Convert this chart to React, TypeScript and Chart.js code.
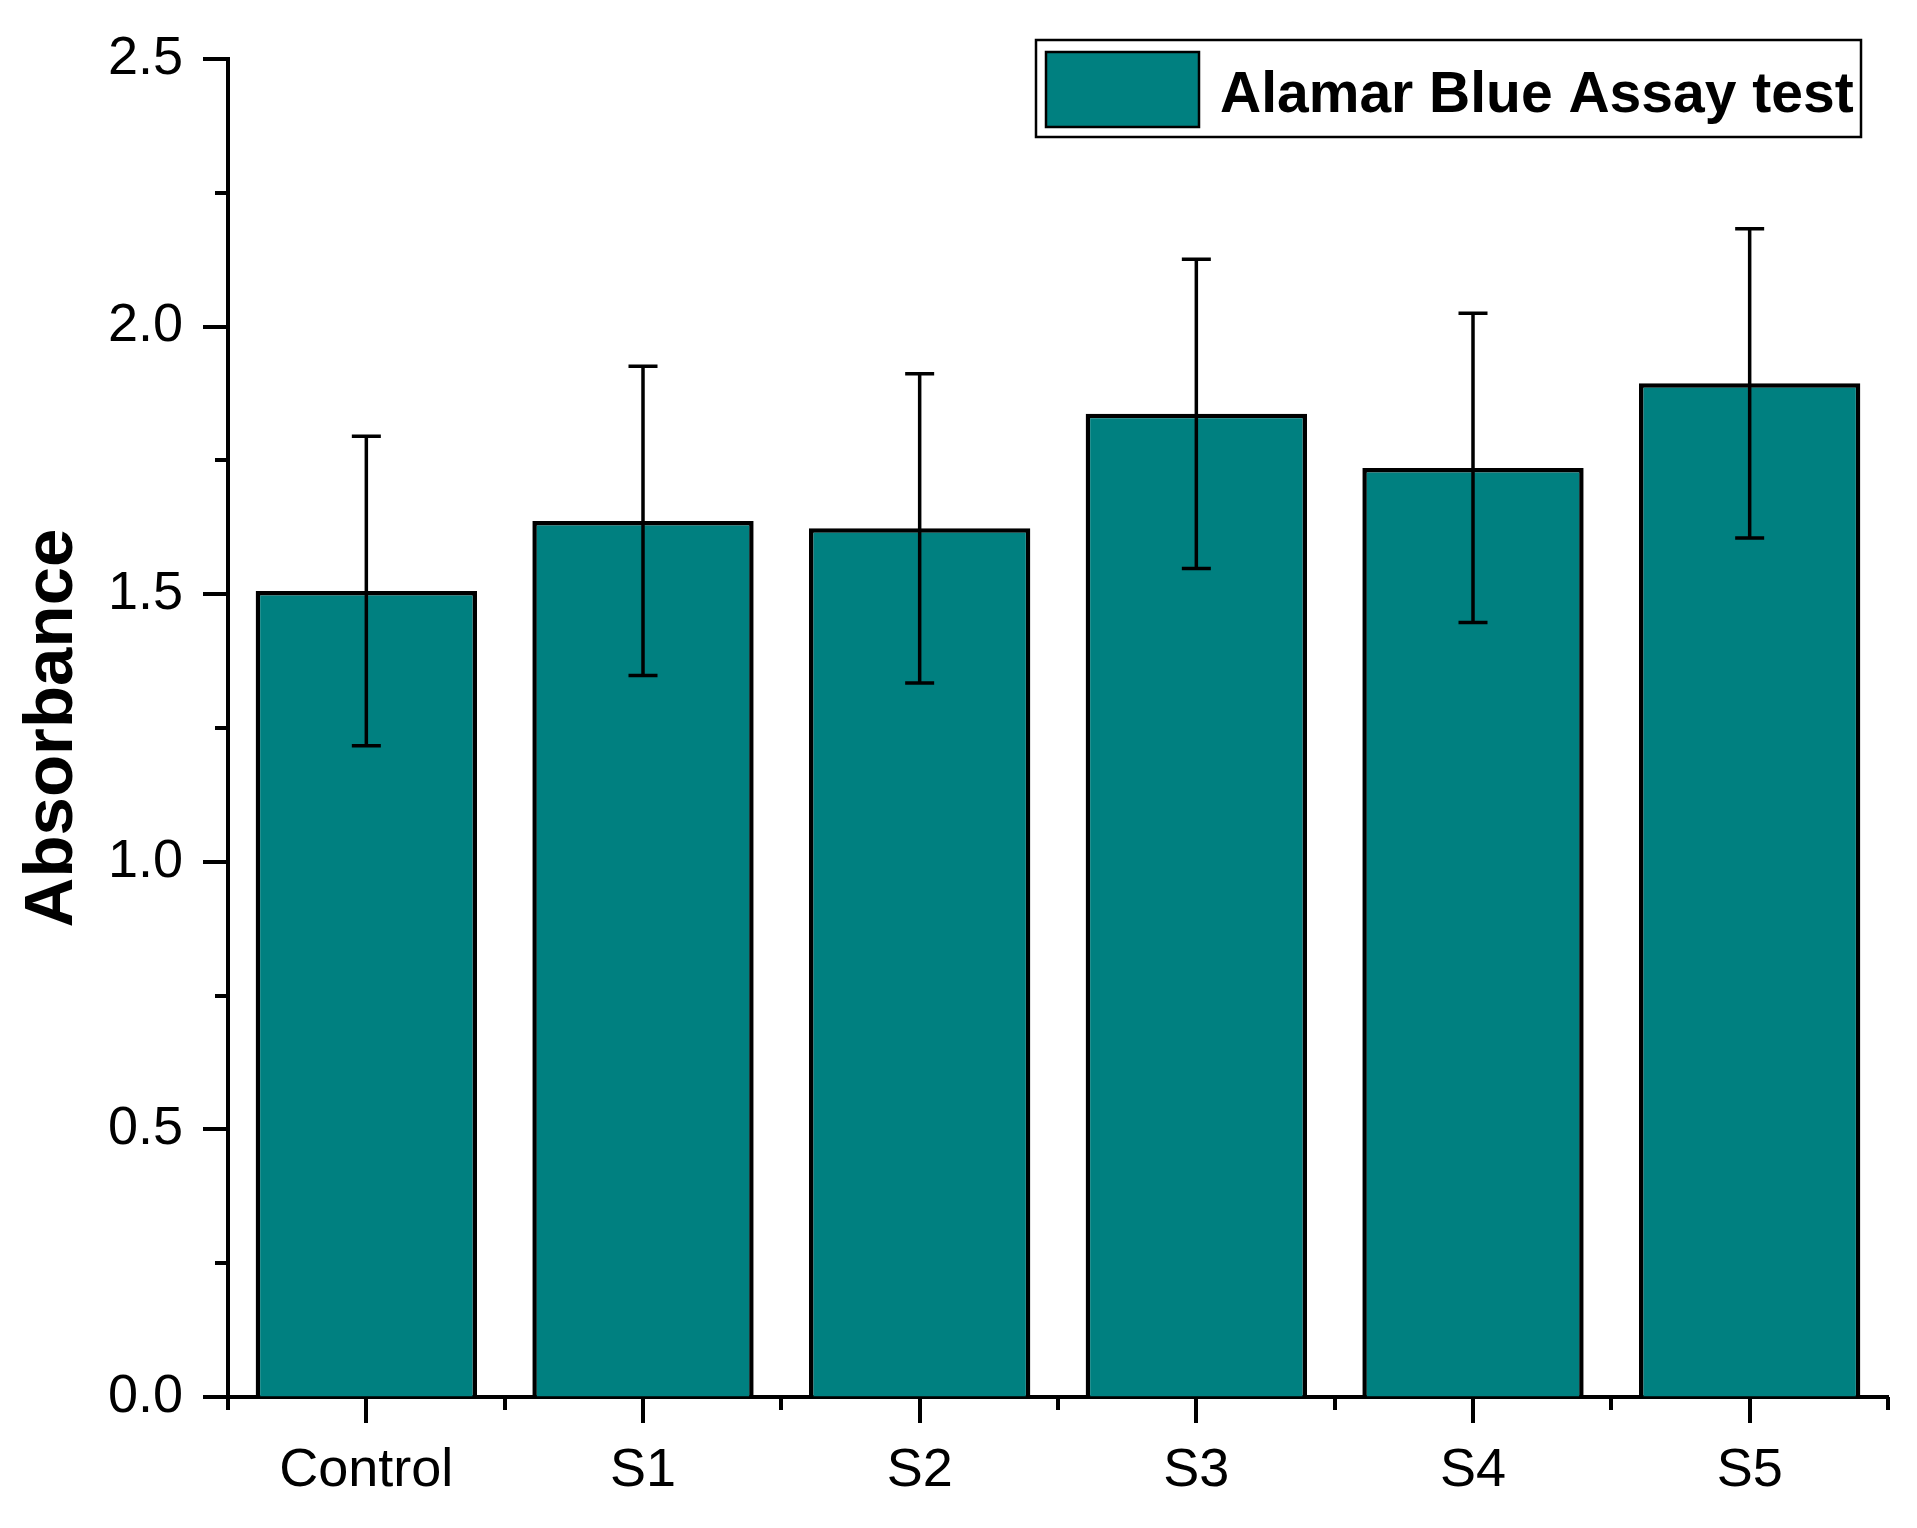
import React, { useEffect, useRef } from 'react';
import { Chart, registerables } from 'chart.js';

Chart.register(...registerables);

// ---- data ----
const categories = ['Control', 'S1', 'S2', 'S3', 'S4', 'S5'];
const absorbance = [1.506, 1.637, 1.623, 1.837, 1.736, 1.894];
const errors = [0.289, 0.289, 0.289, 0.289, 0.289, 0.289];
const yMin = 0;
const yMax = 2.5;
const yMajorStep = 0.5;
const yMinorStep = 0.25;
const seriesLabel = 'Alamar Blue Assay test';
const yTitle = 'Absorbance';

const FONT = '"Liberation Sans", Arial, Helvetica, sans-serif';
const BAR_COLOR = '#008080';

const errorBarPlugin = {
  id: 'errorBars',
  afterDatasetsDraw(chart: any) {
    const ctx = chart.ctx;
    const meta = chart.getDatasetMeta(0);
    const ys = chart.scales.y;
    const vals = chart.data.datasets[0].data as number[];
    ctx.save();
    ctx.strokeStyle = '#000';
    ctx.lineWidth = 3.5;
    ctx.lineCap = 'butt';
    meta.data.forEach((el: any, i: number) => {
      const v = vals[i];
      const e = errors[i];
      const cx = el.x;
      const yTop = ys.getPixelForValue(v + e);
      const yBot = ys.getPixelForValue(v - e);
      const half = 14.5;
      ctx.beginPath();
      ctx.moveTo(cx, yTop);
      ctx.lineTo(cx, yBot);
      ctx.moveTo(cx - half, yTop);
      ctx.lineTo(cx + half, yTop);
      ctx.moveTo(cx - half, yBot);
      ctx.lineTo(cx + half, yBot);
      ctx.stroke();
    });
    ctx.restore();
  },
};

const tickPlugin = {
  id: 'customTicks',
  afterDraw(chart: any) {
    const ctx = chart.ctx;
    const xs = chart.scales.x;
    const ys = chart.scales.y;
    const area = chart.chartArea;
    ctx.save();
    ctx.strokeStyle = '#000';
    ctx.lineWidth = 4;
    ctx.lineCap = 'butt';
    // y ticks (major + minor), pointing outward
    const nMinor = Math.round((yMax - yMin) / yMinorStep);
    for (let k = 0; k <= nMinor; k++) {
      const v = yMin + k * yMinorStep;
      const isMajor = Math.abs(v / yMajorStep - Math.round(v / yMajorStep)) < 1e-6;
      const len = isMajor ? 25 : 13;
      const py = Math.round(ys.getPixelForValue(v));
      ctx.beginPath();
      ctx.moveTo(area.left - len, py);
      ctx.lineTo(area.left, py);
      ctx.stroke();
    }
    // x ticks: boundaries (short) and centres (long)
    const n = categories.length;
    for (let i = 0; i <= n; i++) {
      let px;
      if (i === 0) px = area.left;
      else if (i === n) px = area.right;
      else px = xs.getPixelForValue(i - 0.5);
      px = Math.round(px);
      ctx.beginPath();
      ctx.moveTo(px, area.bottom);
      ctx.lineTo(px, area.bottom + 13);
      ctx.stroke();
    }
    for (let i = 0; i < n; i++) {
      const px = Math.round(xs.getPixelForValue(i));
      ctx.beginPath();
      ctx.moveTo(px, area.bottom);
      ctx.lineTo(px, area.bottom + 26);
      ctx.stroke();
    }
    ctx.restore();
  },
};

const legendPlugin = {
  id: 'boxLegend',
  afterDraw(chart: any) {
    const ctx = chart.ctx;
    const ds = chart.data.datasets[0];
    ctx.save();
    // frame
    ctx.fillStyle = '#fff';
    ctx.fillRect(1036, 40, 825, 97);
    ctx.strokeStyle = '#000';
    ctx.lineWidth = 2.5;
    ctx.strokeRect(1036, 40, 825, 97);
    // swatch
    ctx.fillStyle = ds.backgroundColor;
    ctx.fillRect(1046, 52, 153, 75);
    ctx.lineWidth = 2.5;
    ctx.strokeRect(1046, 52, 153, 75);
    // label
    ctx.fillStyle = '#000';
    ctx.font = `bold 57px ${FONT}`;
    ctx.textBaseline = 'alphabetic';
    ctx.textAlign = 'left';
    ctx.fillText(ds.label, 1220, 112);
    ctx.restore();
  },
};

export default function App() {
  const canvasRef = useRef<HTMLCanvasElement | null>(null);

  useEffect(() => {
    if (!canvasRef.current) return;
    const chart = new Chart(canvasRef.current, {
      type: 'bar',
      data: {
        labels: categories,
        datasets: [
          {
            label: seriesLabel,
            data: absorbance,
            backgroundColor: BAR_COLOR,
            borderColor: '#000',
            borderWidth: 4.5,
            barPercentage: 0.8,
            categoryPercentage: 1.0,
          },
        ],
      },
      options: {
        responsive: false,
        animation: false,
        devicePixelRatio: 1,
        layout: { padding: { left: 0, right: 29, top: 59, bottom: 0 } },
        plugins: {
          legend: { display: false },
          tooltip: { enabled: false },
        },
        scales: {
          x: {
            type: 'category',
            offset: true,
            grid: { display: true, drawOnChartArea: false, drawTicks: false, color: 'rgba(0,0,0,0)' },
            border: { display: true, color: '#000', width: 4 },
            ticks: {
              color: '#000',
              font: { family: FONT, size: 54 },
              padding: 42,
              maxRotation: 0,
              autoSkip: false,
            },
            afterFit: (scale: any) => {
              scale.height = 131;
              scale.paddingLeft = 0;
              scale.paddingRight = 0;
            },
          },
          y: {
            type: 'linear',
            min: yMin,
            max: yMax,
            grid: { display: true, drawOnChartArea: false, drawTicks: false, color: 'rgba(0,0,0,0)' },
            border: { display: true, color: '#000', width: 4 },
            ticks: {
              stepSize: yMajorStep,
              color: '#000',
              font: { family: FONT, size: 54 },
              padding: 45,
              callback: (v: any) => Number(v).toFixed(1),
            },
            title: {
              display: true,
              text: yTitle,
              color: '#000',
              font: { family: FONT, size: 69, weight: 'bold' },
              padding: { top: 12, bottom: 0 },
            },
            afterFit: (scale: any) => {
              scale.width = 228;
              scale.paddingTop = 0;
              scale.paddingBottom = 0;
            },
          },
        },
      },
      plugins: [errorBarPlugin, tickPlugin, legendPlugin],
    });
    return () => chart.destroy();
  }, []);

  return (
    <div style={{ position: 'absolute', left: 0, top: 0, width: 1917, height: 1528, background: '#fff' }}>
      <canvas ref={canvasRef} width={1917} height={1528} style={{ display: 'block' }} />
    </div>
  );
}
